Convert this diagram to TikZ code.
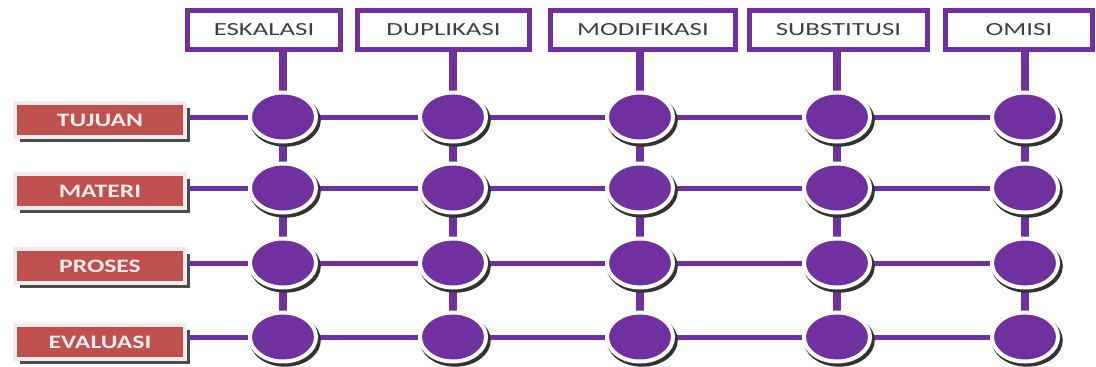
\documentclass[tikz,border=0pt]{standalone}
\usepackage{fontspec}
\setmainfont{Carlito}
\newfontfamily\topfont[FakeStretch=1.45]{Carlito}
\newfontfamily\labfont[FakeStretch=1.35]{Carlito}
\usetikzlibrary{shapes.geometric,shadows,backgrounds}
\definecolor{ppl}{HTML}{7030A0}
\definecolor{rd}{HTML}{C0504D}
\definecolor{txtgray}{HTML}{404040}
\definecolor{pale}{HTML}{F4ECEC}
\begin{document}
\begin{tikzpicture}[x=1pt,y=-1pt,
  topbox/.style={draw=ppl, line width=5pt, fill=white, minimum height=39pt,
    inner sep=0pt, text=txtgray, font=\topfont\fontsize{18.5}{20}\selectfont},
  lab/.style={fill=rd, draw=pale, line width=4pt, minimum width=170pt, minimum height=34pt,
    inner sep=0pt, text=pale, font=\labfont\bfseries\fontsize{19}{21}\selectfont,
    general shadow={shadow xshift=5pt, shadow yshift=-5pt, fill=black!70}},
  dot/.style={ellipse, fill=ppl, draw=white, line width=4pt, minimum width=66pt,
    minimum height=49pt, inner sep=0pt,
    general shadow={shadow scale=1.08, shadow xshift=2pt, shadow yshift=-3pt, fill=black!80}},
  hline/.style={draw=ppl, line width=5pt},
  vline/.style={draw=ppl, line width=8pt}]
\useasboundingbox (0,0) rectangle (1096,367);
% top boxes
\node[topbox, minimum width=153pt] (t1) at (264,30) {ESKALASI};
\node[topbox, minimum width=172pt] (t2) at (443.5,30) {DUPLIKASI};
\node[topbox, minimum width=185pt] (t3) at (643,30) {MODIFIKASI};
\node[topbox, minimum width=178pt] (t4) at (838.5,30) {SUBSTITUSI};
\node[topbox, minimum width=147pt] (t5) at (1019,30) {OMISI};
% row labels
\node[lab] (r1) at (100,120) {TUJUAN};
\node[lab] (r2) at (100,191) {MATERI};
\node[lab] (r3) at (100,266) {PROSES};
\node[lab] (r4) at (100,342) {EVALUASI};
% dots
\foreach \c/\x in {1/283,2/453,3/640,4/837,5/1025}{
  \foreach \r/\y in {1/117,2/188,3/263,4/337}{
    \node[dot] (d\r\c) at (\x,\y) {};
  }
}
\begin{scope}[on background layer]
  \foreach \c in {1,...,5}{
    \draw[vline] (t\c.south -| d1\c.north) -- (d1\c.north);
    \draw[vline] (d1\c.south) -- (d2\c.north);
    \draw[vline] (d2\c.south) -- (d3\c.north);
    \draw[vline] (d3\c.south) -- (d4\c.north);
  }
  \foreach \r in {1,...,4}{
    \draw[hline] (r\r.east |- d\r1.west) -- (d\r1.west);
    \draw[hline] (d\r1.east) -- (d\r2.west);
    \draw[hline] (d\r2.east) -- (d\r3.west);
    \draw[hline] (d\r3.east) -- (d\r4.west);
    \draw[hline] (d\r4.east) -- (d\r5.west);
  }
\end{scope}
\end{tikzpicture}
\end{document}
